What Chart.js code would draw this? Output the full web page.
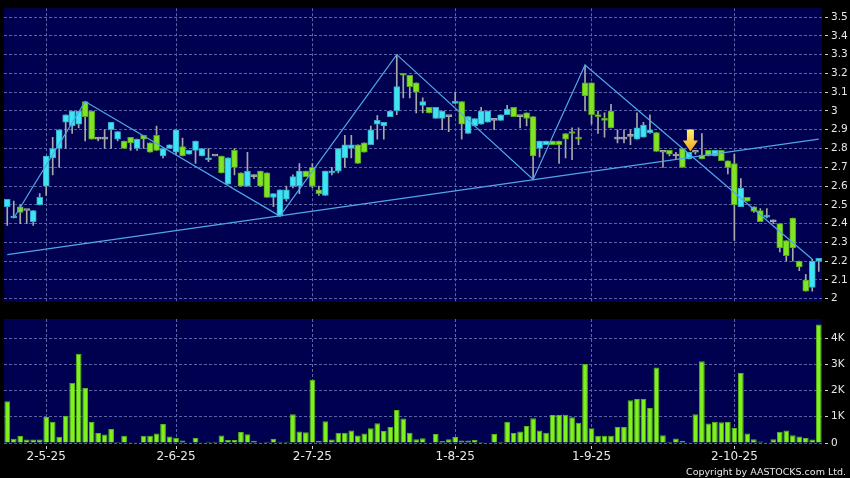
<!DOCTYPE html>
<html>
<head>
<meta charset="utf-8">
<script src="https://cdn.jsdelivr.net/npm/chart.js@4.4.1/dist/chart.umd.min.js"></script>
<style>
  html, body { margin: 0; padding: 0; background: #000; }
  #wrap { position: relative; width: 850px; height: 478px; background: #000; overflow: hidden; }
  canvas { position: absolute; left: 0; }
  #priceChart { top: 0; }
  #volumeChart { top: 310px; }
</style>
</head>
<body>
<div id="wrap">
  <canvas id="priceChart" width="850" height="310"></canvas>
  <canvas id="volumeChart" width="850" height="168"></canvas>
</div>
<script>
// trading days per month (2025), one candle per day
const tradingDays = [
  [4, [23, 24, 25, 28, 29, 30]],
  [5, [2, 6, 7, 8, 9, 12, 13, 14, 15, 16, 19, 20, 21, 22, 23, 26, 27, 28, 29, 30]],
  [6, [2, 3, 4, 5, 6, 9, 10, 11, 12, 13, 16, 17, 18, 19, 20, 23, 24, 25, 26, 27, 30]],
  [7, [2, 3, 4, 7, 8, 9, 10, 11, 14, 15, 16, 17, 18, 21, 22, 23, 24, 25, 28, 29, 30, 31]],
  [8, [1, 4, 5, 6, 7, 8, 11, 12, 13, 14, 15, 18, 19, 20, 21, 22, 25, 26, 27, 28, 29]],
  [9, [1, 2, 3, 4, 5, 8, 9, 10, 11, 12, 15, 16, 17, 18, 19, 22, 23, 24, 25, 26, 29, 30]],
  [10, [2, 3, 6, 8, 9, 10, 13, 14, 15, 16, 17, 20, 21, 22]]
]

const openPrices = [
  2.49, 2.43, 2.49, 2.47, 2.41, 2.50, 2.60, 2.75, 2.80, 2.94, 2.92, 2.93, 3.05, 3.00, 2.85, 2.85,
  2.90, 2.85, 2.84, 2.86, 2.80, 2.87, 2.83, 2.87, 2.76, 2.80, 2.78, 2.81, 2.77, 2.79, 2.76, 2.74,
  2.76, 2.76, 2.61, 2.79, 2.67, 2.60, 2.65, 2.68, 2.67, 2.54, 2.44, 2.53, 2.60, 2.60, 2.68, 2.70,
  2.58, 2.55, 2.67, 2.68, 2.75, 2.80, 2.82, 2.83, 2.82, 2.93, 2.92, 2.97, 3.00, 3.20, 3.19, 3.15,
  3.03, 3.02, 2.96, 2.96, 2.97, 3.04, 3.05, 2.88, 2.92, 2.93, 2.94, 2.95, 2.95, 2.98, 3.02, 2.97,
  2.99, 2.97, 2.80, 2.82, 2.84, 2.84, 2.88, 2.89, 2.86, 3.15, 3.15, 2.98, 2.96, 3.00, 2.85, 2.85,
  2.865, 2.85, 2.86, 2.885, 2.885, 2.78, 2.79, 2.76, 2.80, 2.745, 2.78, 2.765, 2.79, 2.76, 2.79, 2.735,
  2.72, 2.49, 2.54, 2.49, 2.47, 2.435, 2.41, 2.40, 2.31, 2.43, 2.20, 2.10, 2.06, 2.20
]
const highPrices = [
  2.53, 2.52, 2.50, 2.47, 2.47, 2.56, 2.76, 2.86, 2.90, 2.98, 3.00, 3.00, 3.05, 3.00, 2.86, 2.90,
  2.94, 2.89, 2.84, 2.86, 2.85, 2.87, 2.83, 2.92, 2.80, 2.82, 2.90, 2.855, 2.79, 2.84, 2.80, 2.80,
  2.76, 2.76, 2.75, 2.80, 2.67, 2.78, 2.66, 2.68, 2.67, 2.56, 2.58, 2.60, 2.66, 2.72, 2.68, 2.72,
  2.60, 2.68, 2.70, 2.80, 2.87, 2.87, 2.82, 2.83, 2.92, 2.975, 2.94, 3.00, 3.30, 3.20, 3.19, 3.15,
  3.07, 3.02, 3.02, 3.00, 2.97, 3.10, 3.05, 2.97, 2.96, 3.02, 3.00, 2.95, 2.98, 3.03, 3.02, 2.97,
  2.99, 2.97, 2.84, 2.84, 2.84, 2.84, 2.88, 2.91, 2.91, 3.245, 3.15, 3.00, 2.99, 3.035, 2.90, 2.90,
  2.90, 2.99, 2.94, 2.98, 2.885, 2.78, 2.79, 2.78, 2.80, 2.78, 2.78, 2.88, 2.79, 2.79, 2.79, 2.735,
  2.77, 2.64, 2.54, 2.49, 2.48, 2.48, 2.42, 2.40, 2.31, 2.43, 2.20, 2.13, 2.21, 2.215
]
const lowPrices = [
  2.39, 2.43, 2.40, 2.40, 2.39, 2.50, 2.55, 2.66, 2.70, 2.80, 2.88, 2.91, 2.84, 2.85, 2.84, 2.80,
  2.80, 2.84, 2.80, 2.79, 2.79, 2.80, 2.78, 2.79, 2.75, 2.80, 2.77, 2.76, 2.77, 2.72, 2.76, 2.73,
  2.76, 2.67, 2.61, 2.66, 2.60, 2.60, 2.64, 2.60, 2.54, 2.49, 2.44, 2.52, 2.59, 2.56, 2.65, 2.59,
  2.55, 2.55, 2.66, 2.67, 2.70, 2.75, 2.72, 2.78, 2.82, 2.85, 2.85, 2.97, 2.98, 3.07, 3.07, 2.99,
  2.99, 2.99, 2.96, 2.90, 2.89, 3.04, 2.85, 2.88, 2.92, 2.93, 2.94, 2.90, 2.95, 2.98, 2.97, 2.91,
  2.92, 2.635, 2.755, 2.82, 2.82, 2.72, 2.75, 2.74, 2.82, 3.00, 2.93, 2.88, 2.86, 2.91, 2.83, 2.83,
  2.82, 2.85, 2.86, 2.88, 2.785, 2.70, 2.76, 2.74, 2.70, 2.745, 2.77, 2.745, 2.76, 2.76, 2.735, 2.665,
  2.31, 2.49, 2.52, 2.46, 2.41, 2.43, 2.40, 2.25, 2.20, 2.20, 2.15, 2.04, 2.04, 2.145
]
const closePrices = [
  2.53, 2.44, 2.46, 2.47, 2.47, 2.54, 2.76, 2.80, 2.90, 2.98, 3.00, 3.00, 2.97, 2.85, 2.85, 2.85,
  2.94, 2.89, 2.80, 2.83, 2.85, 2.85, 2.78, 2.79, 2.80, 2.82, 2.90, 2.76, 2.79, 2.84, 2.80, 2.75,
  2.76, 2.67, 2.75, 2.70, 2.60, 2.68, 2.65, 2.60, 2.54, 2.56, 2.58, 2.58, 2.65, 2.68, 2.65, 2.60,
  2.56, 2.68, 2.68, 2.80, 2.82, 2.82, 2.72, 2.78, 2.90, 2.95, 2.94, 3.00, 3.13, 3.19, 3.13, 3.10,
  3.05, 2.99, 3.02, 3.00, 2.97, 3.05, 2.93, 2.97, 2.96, 3.00, 3.00, 2.95, 2.98, 3.01, 2.97, 2.97,
  2.96, 2.76, 2.84, 2.84, 2.82, 2.82, 2.85, 2.88, 2.85, 3.08, 2.98, 2.97, 2.95, 2.91, 2.85, 2.85,
  2.865, 2.91, 2.925, 2.90, 2.785, 2.78, 2.77, 2.76, 2.70, 2.78, 2.78, 2.745, 2.76, 2.79, 2.735, 2.70,
  2.50, 2.59, 2.52, 2.465, 2.41, 2.445, 2.41, 2.27, 2.23, 2.27, 2.17, 2.04, 2.20, 2.215
]
// volume in thousands of shares
const volumes = [
  1590, 165, 270, 130, 130, 130, 990, 810, 240, 1040, 2300, 3400, 2100, 800, 380, 320,
  530, 40, 280, 30, 30, 280, 280, 360, 720, 250, 200, 100, 30, 190, 10, 50,
  50, 290, 110, 110, 420, 330, 90, 10, 50, 150, 50, 50, 1100, 440, 410, 2410,
  90, 830, 130, 390, 390, 480, 290, 360, 560, 750, 460, 610, 1260, 930, 390, 140,
  180, 20, 340, 80, 140, 230, 100, 100, 110, 40, 20, 340, 50, 810, 380, 440,
  650, 940, 480, 390, 1070, 1070, 1080, 980, 770, 3010, 560, 280, 280, 280, 610, 610,
  1630, 1680, 1680, 1330, 2880, 300, 50, 170, 90, 30, 1100, 3110, 740, 810, 790, 800,
  570, 2670, 360, 140, 60, 30, 140, 430, 480, 300, 250, 190, 130, 4510
]

// drawn trend lines: zigzag swing points and the rising support line
const zigzagIndex = [1, 12, 42, 60, 81, 89, 124]
const zigzagPrice = [2.43, 3.05, 2.44, 3.30, 2.635, 3.245, 2.21]
const supportIndex = [0, 125]
const supportPrice = [2.235, 2.85]

const arrowIndex = 105
const arrowPrice = 2.784

const priceTicks = [2, 2.1, 2.2, 2.3, 2.4, 2.5, 2.6, 2.7, 2.8, 2.9, 3, 3.1, 3.2, 3.3, 3.4, 3.5]
const volumeTicks = [0, 1000, 2000, 3000, 4000]

const NAVY = '#000050'
const GRID = '#5a64a4'
const TEXT = '#e8e8e8'
const UP_FILL = '#3fe4f0'
const UP_EDGE = '#30a8cc'
const DOWN_FILL = '#80e424'
const DOWN_EDGE = '#56a41e'
const FLAT = '#a8a8a8'
const TREND = '#4fa6e6'

const dates = []
const monthStarts = []
tradingDays.forEach(([month, days], m) => {
  if (m > 0) monthStarts.push(dates.length)
  days.forEach(d => dates.push(`${d}-${month}-25`))
})

function sparseLine(indexes, values) {
  const out = dates.map(() => null)
  indexes.forEach((k, j) => { out[k] = values[j] })
  return out
}

const bodyColor = dates.map((_, i) => closePrices[i] > openPrices[i] ? UP_FILL : closePrices[i] < openPrices[i] ? DOWN_FILL : FLAT)
const bodyEdge = dates.map((_, i) => closePrices[i] > openPrices[i] ? UP_EDGE : closePrices[i] < openPrices[i] ? DOWN_EDGE : FLAT)

Chart.defaults.font.family = 'DejaVu Sans'
Chart.defaults.color = TEXT

const panelBackground = {
  id: 'panelBackground',
  beforeDraw(chart) {
    const { ctx, chartArea: a } = chart
    ctx.save()
    ctx.fillStyle = '#000'
    ctx.fillRect(0, 0, chart.width, chart.height)
    ctx.fillStyle = NAVY
    ctx.fillRect(a.left, a.top, a.right - a.left, a.bottom - a.top)
    ctx.restore()
  }
}

const signalArrow = {
  id: 'signalArrow',
  afterDatasetsDraw(chart) {
    const { ctx, scales: { x, y } } = chart
    const cx = x.getPixelForValue(arrowIndex) + 1.5
    const tip = y.getPixelForValue(arrowPrice)
    const grad = ctx.createLinearGradient(0, tip - 22, 0, tip)
    grad.addColorStop(0, '#fff470')
    grad.addColorStop(1, '#f0a01e')
    ctx.save()
    ctx.beginPath()
    ctx.moveTo(cx - 3.5, tip - 22)
    ctx.lineTo(cx + 3.5, tip - 22)
    ctx.lineTo(cx + 3.5, tip - 11)
    ctx.lineTo(cx + 7.5, tip - 11)
    ctx.lineTo(cx, tip)
    ctx.lineTo(cx - 7.5, tip - 11)
    ctx.lineTo(cx - 3.5, tip - 11)
    ctx.closePath()
    ctx.fillStyle = grad
    ctx.fill()
    ctx.restore()
  }
}

const copyright = {
  id: 'copyright',
  afterDraw(chart) {
    const { ctx } = chart
    ctx.save()
    ctx.font = '9.5px "DejaVu Sans"'
    ctx.fillStyle = TEXT
    ctx.textAlign = 'right'
    ctx.textBaseline = 'alphabetic'
    ctx.fillText('Copyright by AASTOCKS.com Ltd.', 846, 165)
    ctx.restore()
  }
}

const tickMarks = { tickLength: 6, tickColor: '#d0d0d0', tickBorderDash: [0, 3, 3, 10] }

new Chart(document.getElementById('priceChart'), {
  type: 'bar',
  data: {
    labels: dates,
    datasets: [
      {
        type: 'line',
        data: sparseLine(zigzagIndex, zigzagPrice),
        borderColor: TREND,
        borderWidth: 1.2,
        pointRadius: 0,
        spanGaps: true,
        order: 0
      },
      {
        type: 'line',
        data: sparseLine(supportIndex, supportPrice),
        borderColor: TREND,
        borderWidth: 1.2,
        pointRadius: 0,
        spanGaps: true,
        order: 0
      },
      {
        data: dates.map((_, i) => [openPrices[i], closePrices[i]]),
        backgroundColor: bodyColor,
        borderColor: bodyEdge,
        borderWidth: 1,
        borderSkipped: false,
        barThickness: 6,
        minBarLength: 2,
        grouped: false,
        order: 1
      },
      {
        data: dates.map((_, i) => [lowPrices[i], highPrices[i]]),
        backgroundColor: FLAT,
        borderWidth: 0,
        barThickness: 1,
        grouped: false,
        order: 2
      }
    ]
  },
  options: {
    responsive: false,
    animation: false,
    devicePixelRatio: 1,
    layout: { padding: { left: 4, top: 6, right: 0, bottom: 5 } },
    plugins: { legend: { display: false }, tooltip: { enabled: false } },
    scales: {
      x: {
        ticks: { display: false, autoSkip: false },
        grid: { color: GRID, offset: false, drawTicks: false },
        border: { display: false, dash: [3, 2] },
        afterBuildTicks: s => { s.ticks = s.ticks.filter(t => monthStarts.includes(t.value)) },
        afterFit: s => { s.height = 0 }
      },
      y: {
        position: 'right',
        min: 1.984,
        max: 3.547,
        ticks: { color: TEXT, padding: 3, font: { size: 10.5, lineHeight: 1 }, callback: v => String(Number(v.toFixed(1))) },
        grid: { color: GRID, ...tickMarks },
        border: { display: false, dash: [3, 2] },
        afterBuildTicks: s => { s.ticks = priceTicks.map(value => ({ value })) },
        afterFit: s => { s.width = 28 }
      }
    }
  },
  plugins: [panelBackground, signalArrow]
})

new Chart(document.getElementById('volumeChart'), {
  type: 'bar',
  data: {
    labels: dates,
    datasets: [{
      data: volumes,
      backgroundColor: '#7ff21e',
      borderColor: '#58b418',
      borderWidth: 1,
      borderSkipped: 'bottom',
      categoryPercentage: 1,
      barPercentage: 0.88
    }]
  },
  options: {
    responsive: false,
    animation: false,
    devicePixelRatio: 1,
    layout: { padding: { left: 4, top: 9, right: 0, bottom: 0 } },
    plugins: { legend: { display: false }, tooltip: { enabled: false } },
    scales: {
      x: {
        ticks: { color: TEXT, padding: 1, autoSkip: false, maxRotation: 0, font: { size: 12 } },
        grid: { color: GRID, offset: false, ...tickMarks },
        border: { display: false, dash: [3, 2] },
        afterBuildTicks: s => { s.ticks = s.ticks.filter(t => monthStarts.includes(t.value)) },
        afterFit: s => { s.height = 35 }
      },
      y: {
        position: 'right',
        min: 0,
        max: 4724,
        ticks: { color: TEXT, padding: 3, font: { size: 10.5, lineHeight: 1 }, callback: v => v === 0 ? '0' : (v / 1000) + 'K' },
        grid: { color: GRID, ...tickMarks },
        border: { display: false, dash: [3, 2] },
        afterBuildTicks: s => { s.ticks = volumeTicks.map(value => ({ value })) },
        afterFit: s => { s.width = 28 }
      }
    }
  },
  plugins: [panelBackground, copyright]
})
</script>
</body>
</html>
